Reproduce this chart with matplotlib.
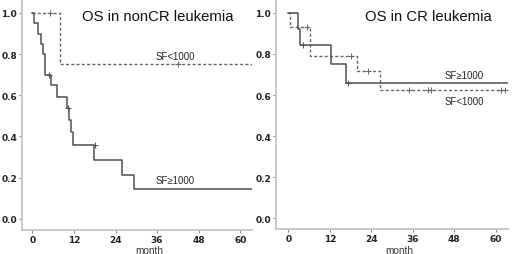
import matplotlib
matplotlib.use("Agg")
import matplotlib.pyplot as plt

# ---- data ----
# Left panel: OS in nonCR leukemia
noncr_hi_t = [0, 0.5, 1.5, 2.4, 3.0, 3.7, 5.3, 7.2, 9.9, 10.6, 11.2, 11.7, 17.8, 25.8, 29.3]
noncr_hi_s = [1.0, 0.95, 0.90, 0.85, 0.80, 0.70, 0.65, 0.59, 0.54, 0.48, 0.42, 0.36, 0.286, 0.214, 0.143]
noncr_hi_cens_t = [4.9, 10.4, 18.0]
noncr_hi_cens_s = [0.70, 0.54, 0.36]

noncr_lo_t = [0, 7.9]
noncr_lo_s = [1.0, 0.75]
noncr_lo_cens_t = [5.0, 42.0]
noncr_lo_cens_s = [1.0, 0.75]

# Right panel: OS in CR leukemia
cr_hi_t = [0, 2.7, 3.5, 12.3, 16.7]
cr_hi_s = [1.0, 0.923, 0.846, 0.75, 0.658]
cr_hi_cens_t = [4.3, 17.2]
cr_hi_cens_s = [0.846, 0.658]

cr_lo_t = [0, 0.5, 6.3, 19.8, 26.5]
cr_lo_s = [1.0, 0.933, 0.79, 0.715, 0.623]
cr_lo_cens_t = [5.3, 18.0, 23.1, 35.0, 40.5, 41.3, 61.6, 62.5]
cr_lo_cens_s = [0.933, 0.79, 0.715, 0.623, 0.623, 0.623, 0.623, 0.623]

end_time = 64
x_ticks = [0, 12, 24, 36, 48, 60]
y_ticks = [0.0, 0.2, 0.4, 0.6, 0.8, 1.0]
titles = ["OS in nonCR leukemia", "OS in CR leukemia"]
xlabel = "month"
lab_hi = "SF\u22651000"
lab_lo = "SF<1000"

plt.rcParams['font.family'] = ['Liberation Sans', 'DejaVu Sans']

fig = plt.figure(figsize=(5.2, 2.55), dpi=100)
ax1 = fig.add_axes([22/520, 24.3/255, 230/520, 230.7/255])
ax2 = fig.add_axes([276/520, 25/255, 232/520, 230/255])

spine_col = '#c4c4c4'
tick_col = '#8a8a8a'
solid_col = '#4f4f4f'
dash_col = '#666666'


def km(ax, t, s, ls, col):
    tt = list(t) + [end_time]
    ss = list(s) + [s[-1]]
    if ls == 'dash':
        ax.step(tt, ss, where='post', color=col, lw=1.0, dashes=(2.2, 1.6), zorder=3)
    else:
        ax.step(tt, ss, where='post', color=col, lw=1.1, zorder=3)


def style(ax, xlim, label_x):
    ax.set_xlim(*xlim)
    ax.set_ylim(-0.053, 1.068)
    ax.set_xticks(x_ticks)
    ax.set_yticks(y_ticks)
    ax.set_yticklabels([f"{v:.1f}" for v in y_ticks])
    for sp in ['top', 'right']:
        ax.spines[sp].set_visible(False)
    for sp in ['left', 'bottom']:
        ax.spines[sp].set_color(spine_col)
        ax.spines[sp].set_linewidth(1.3)
    ax.tick_params(axis='both', direction='out', length=2.5, width=0.8,
                   color=tick_col, labelsize=6.5, labelcolor='#222222', pad=1.0)
    for lab in ax.get_xticklabels() + ax.get_yticklabels():
        lab.set_fontweight('bold')
        lab.set_fontfamily('DejaVu Sans')
    ax.set_xlabel(xlabel, fontsize=7.2, color='#333333')
    ax.xaxis.set_label_coords(label_x, -0.09)
    ax.xaxis.label.set_va('center')


# left panel
km(ax1, noncr_lo_t, noncr_lo_s, 'dash', dash_col)
km(ax1, noncr_hi_t, noncr_hi_s, 'solid', solid_col)
ax1.plot(noncr_lo_cens_t, noncr_lo_cens_s, ls='none', marker='+', ms=4, mew=0.7, color=dash_col, zorder=4)
ax1.plot(noncr_hi_cens_t, noncr_hi_cens_s, ls='none', marker='+', ms=4, mew=0.7, color=solid_col, zorder=4)
style(ax1, (-3, 63.4), 0.552)
ax1.text(36.1, 0.985, titles[0], fontsize=10.7, ha='center', va='center', color='#111111')
ax1.text(41.3, 0.79, lab_lo, fontsize=6.9, ha='center', va='center', color='#222222')
ax1.text(41.3, 0.187, lab_hi, fontsize=6.9, ha='center', va='center', color='#222222')

# right panel
km(ax2, cr_lo_t, cr_lo_s, 'dash', dash_col)
km(ax2, cr_hi_t, cr_hi_s, 'solid', solid_col)
ax2.plot(cr_lo_cens_t, cr_lo_cens_s, ls='none', marker='+', ms=4, mew=0.7, color=dash_col, zorder=4)
ax2.plot(cr_hi_cens_t, cr_hi_cens_s, ls='none', marker='+', ms=4, mew=0.7, color=solid_col, zorder=4)
style(ax2, (-3.55, 63.5), 0.53)
ax2.text(40.5, 0.985, titles[1], fontsize=10.7, ha='center', va='center', color='#111111')
ax2.text(50.9, 0.70, lab_hi, fontsize=6.9, ha='center', va='center', color='#222222')
ax2.text(50.9, 0.573, lab_lo, fontsize=6.9, ha='center', va='center', color='#222222')

fig.savefig("out.png", dpi=100)
